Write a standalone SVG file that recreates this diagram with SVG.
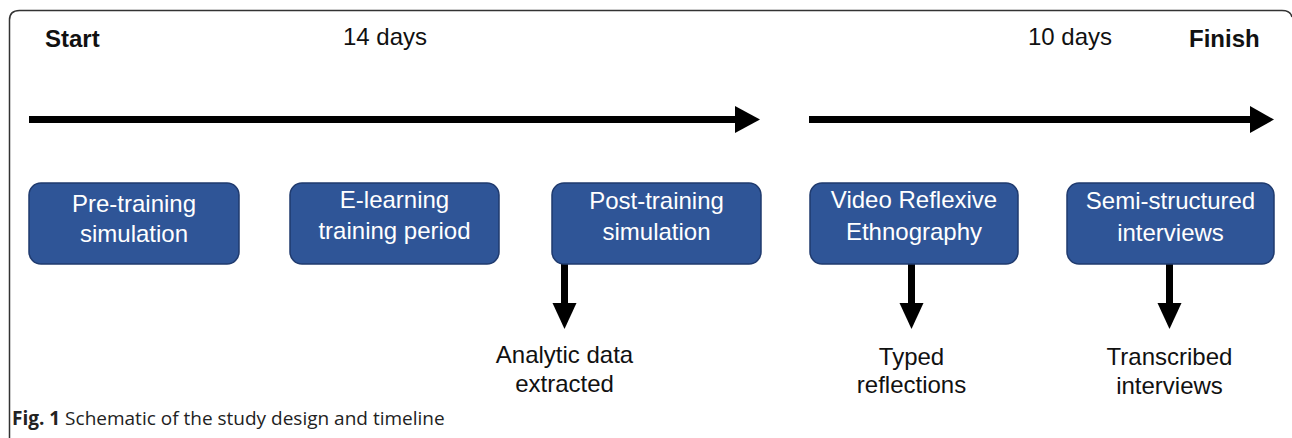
<svg xmlns="http://www.w3.org/2000/svg" width="1292" height="438" viewBox="0 0 1292 438">
  <style>
    .lbl { font-family: "Liberation Sans", Arial, sans-serif; font-size: 24px; fill: #111; }
    .bold { font-weight: bold; }
    .box rect { fill: #2F5597; stroke: #1F3A6E; stroke-width: 1.5; }
    .box text { font-family: "Liberation Sans", Arial, sans-serif; font-size: 24px; fill: #ffffff; text-anchor: middle; }
    .out { font-family: "Liberation Sans", Arial, sans-serif; font-size: 24px; fill: #111; text-anchor: middle; }
    .cap { font-family: "Open Sans", "Noto Sans", sans-serif; font-size: 19px; fill: #222; }
  </style>
  <rect width="1292" height="438" fill="#ffffff"/>
  <path d="M9.5 438 V20 Q9.5 10.5 19.5 10.5 H1282 Q1290.5 10.5 1292 17" fill="none" stroke="#333" stroke-width="1.5"/>

  <g id="headers">
    <text class="lbl bold" x="45" y="47">Start</text>
    <text class="lbl" x="343" y="45">14 days</text>
    <text class="lbl" x="1028" y="45">10 days</text>
    <text class="lbl bold" x="1189" y="47">Finish</text>
  </g>

  <g id="connectors" fill="#000">
    <rect x="29" y="116" width="708" height="7"/>
    <polygon points="735,106 760,119.5 735,133"/>
    <rect x="809" y="116" width="442" height="7"/>
    <polygon points="1250,106 1274,119.5 1250,133"/>
    <rect x="561" y="264" width="7" height="40"/>
    <polygon points="552.5,303 576.5,303 564.5,329"/>
    <rect x="908" y="264" width="7" height="40"/>
    <polygon points="899.5,303 923.5,303 911.5,329"/>
    <rect x="1166" y="264" width="7" height="40"/>
    <polygon points="1157.5,303 1181.5,303 1169.5,329"/>
  </g>

  <g id="pre-training" class="box">
    <rect x="29" y="183" width="210" height="81" rx="12"/>
    <text x="134" y="212">Pre-training</text>
    <text x="134" y="242">simulation</text>
  </g>
  <g id="e-learning" class="box">
    <rect x="290" y="183" width="209" height="81" rx="12"/>
    <text x="394.5" y="208">E-learning</text>
    <text x="394.5" y="239">training period</text>
  </g>
  <g id="post-training" class="box">
    <rect x="552" y="183" width="209" height="81" rx="12"/>
    <text x="656.5" y="209">Post-training</text>
    <text x="656.5" y="240">simulation</text>
  </g>
  <g id="vre" class="box">
    <rect x="810" y="183" width="208" height="81" rx="12"/>
    <text x="914" y="208">Video Reflexive</text>
    <text x="914" y="240">Ethnography</text>
  </g>
  <g id="interviews" class="box">
    <rect x="1067" y="183" width="207" height="81" rx="12"/>
    <text x="1170.5" y="209">Semi-structured</text>
    <text x="1170.5" y="241">interviews</text>
  </g>

  <g id="analytic">
    <text class="out" x="564.5" y="363">Analytic data</text>
    <text class="out" x="564.5" y="392">extracted</text>
  </g>
  <g id="typed">
    <text class="out" x="911.5" y="365">Typed</text>
    <text class="out" x="911.5" y="393">reflections</text>
  </g>
  <g id="transcribed">
    <text class="out" x="1169.5" y="365">Transcribed</text>
    <text class="out" x="1169.5" y="394">interviews</text>
  </g>

  <text class="cap" x="12" y="425"><tspan font-weight="bold">Fig. 1</tspan> Schematic of the study design and timeline</text>
</svg>
